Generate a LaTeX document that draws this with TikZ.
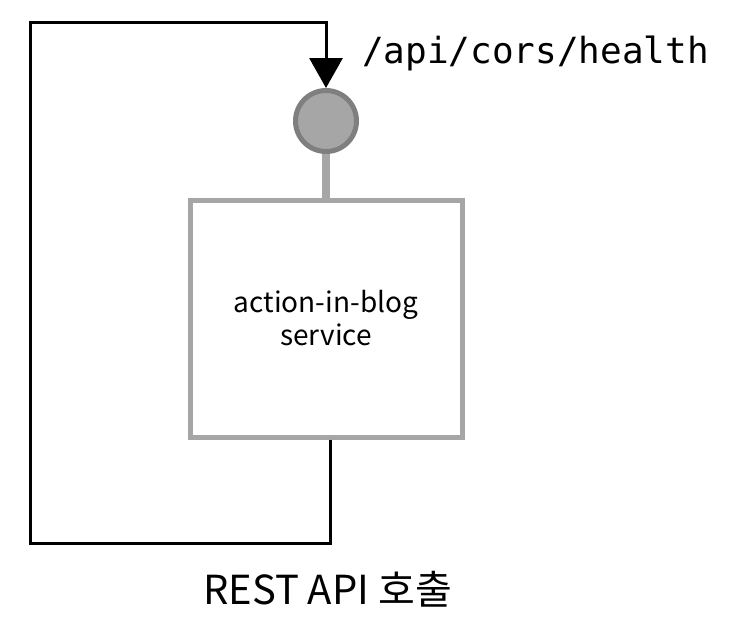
\documentclass[tikz,border=0pt]{standalone}
\usepackage{fontspec}
\usepackage{xcolor}
\usepackage{tikz}
\usetikzlibrary{arrows.meta}
\usetikzlibrary{calc}
\setmainfont{Noto Sans CJK KR}
\newfontfamily\codefont{DejaVu Sans Mono}
\definecolor{grisclair}{HTML}{A6A6A6}
\definecolor{grisfonce}{HTML}{7F7F7F}

\begin{document}
\begin{tikzpicture}[x=1pt, y=-1pt]
    % Cadre de la page
    \useasboundingbox (0, 0) rectangle (731, 633);

    % Point d'entrée (cercle gris)
    \node[circle, draw=grisfonce, fill=grisclair, line width=5pt, minimum size=61pt, inner sep=0pt] (port) at (326, 121) {};

    % Boîte du service
    \node[draw=grisclair, fill=white, line width=5pt, minimum width=272pt, minimum height=237pt, align=center, font=\fontsize{28}{33}\selectfont] (service) at (326, 318.5) {action-in-blog\\service};

    % Liaison cercle - boîte
    \draw[grisclair, line width=8pt] (port.south) -- (service.north);

    % Boucle de l'appel REST
    \coordinate (coinbas) at (30, 543);
    \coordinate (coinhaut) at (30, 22);
    \draw[line width=3pt, -{Triangle[length=30pt, width=33pt]}] ([xshift=4pt]service.south) |- (coinbas) -- (coinhaut) -| (port.north);

    % Textes
    \node[anchor=base west, inner sep=0pt, font=\codefont\fontsize{36}{40}\selectfont] (route) at (362, 63) {/api/cors/health};
    \node[anchor=base, inner sep=0pt, font=\fontsize{40}{48}\selectfont] (appel) at (327.5, 604) {REST API 호출};
\end{tikzpicture}
\end{document}
